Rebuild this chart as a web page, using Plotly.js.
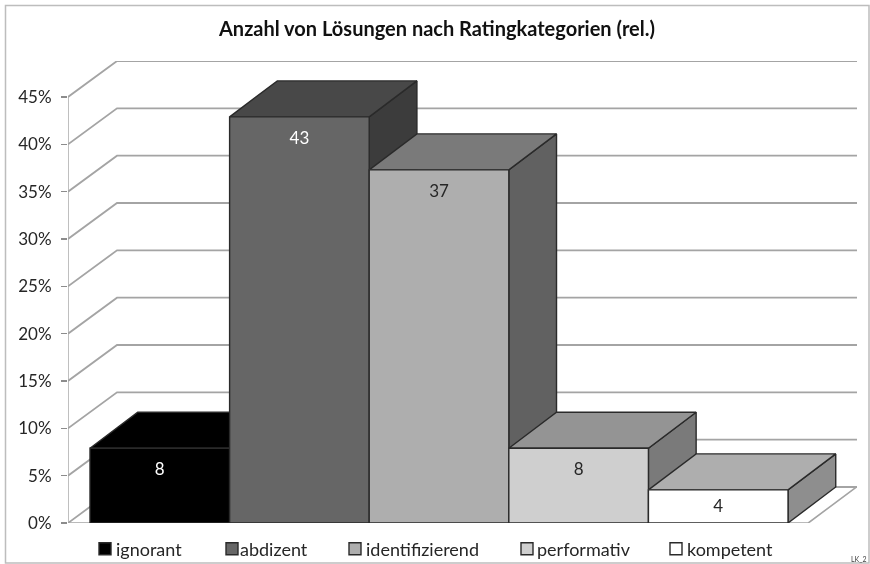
<!DOCTYPE html>
<html><head><meta charset="utf-8">
<script src="https://cdn.plot.ly/plotly-3.0.1.min.js"></script>
<style>html,body{margin:0;padding:0;background:#fff}#chart{width:870px;height:564px;filter:blur(0.35px)}</style>
</head><body><div id="chart"></div>
<script>
const categories = ['ignorant','abdizent','identifizierend','performativ','kompetent'];
const values = [7.9, 42.9, 37.3, 7.9, 3.5];
const labels = ['8','43','37','8','4'];
const yTicks = [0,5,10,15,20,25,30,35,40,45];
const frontColors = ['#000000','#666666','#aeaeae','#cfcfcf','#ffffff'];
const topColors = ['#000000','#484848','#7a7a7a','#949494','#aeaeae'];
const sideColors = ['#000000','#3c3c3c','#616161','#7a7a7a','#8e8e8e'];
const labelColors = ['#ffffff','#ffffff','#262626','#262626','#262626'];
const legendLeft = [87, 211, 337, 508, 658];
const swatchShift = [9, 12, 9, 10, 9];

const xMin=-0.6576, xMax=4.994, yMax=48.8, xFront=4.645;
const wallDx=0.351, barDx=0.3417, depthDy=3.8;
const gridColor='#a4a4a4', edge='#2a2a2a';
const traces=[];
function poly(xs,ys,fill){traces.push({type:'scatter',mode:'lines',x:xs,y:ys,fill:'toself',fillcolor:fill,
  line:{color:edge,width:1.4},showlegend:false,hoverinfo:'skip',cliponaxis:false});}
function line(xs,ys,w){traces.push({type:'scatter',mode:'lines',x:xs,y:ys,line:{color:gridColor,width:w},
  showlegend:false,hoverinfo:'skip',cliponaxis:false});}

yTicks.forEach(v=>line([xMin,xMin+wallDx,xMax],[v,v+depthDy,v+depthDy],1.8));
line([xMin,xMin],[0,45],1.4);
line([xMin,xFront,xFront+wallDx*0.98],[0,0,depthDy],1.6);

values.forEach((v,i)=>{
  const a=i-0.5,b=i+0.5;
  poly([b,b,b+barDx,b+barDx,b],[0,v,v+depthDy,depthDy,0],sideColors[i]);
  poly([a,b,b+barDx,a+barDx,a],[v,v,v+depthDy,v+depthDy,v],topColors[i]);
});
values.forEach((v,i)=>{
  traces.push({type:'bar',x:[i],y:[v],width:1,name:categories[i],xaxis:'x2',yaxis:'y2',cliponaxis:false,
    legend:i===0?'legend':'legend'+(i+1),
    marker:{color:frontColors[i],line:{color:edge,width:1.4}},hoverinfo:'name+y'});
});
traces.push({type:'scatter',mode:'text',x:categories.map((c,i)=>i),y:values.map(v=>v-Math.min(2.4,v*0.55)),text:labels,
  textposition:'middle center',textfont:{family:'Lato, Open Sans, sans-serif',size:17,color:labelColors},
  xaxis:'x2',yaxis:'y2',showlegend:false,hoverinfo:'skip',cliponaxis:false});

const font={family:'Lato, Open Sans, sans-serif',size:17,color:'#262626'};
const layout={
  width:870,height:564,margin:{l:68,r:13,t:61,b:41},
  paper_bgcolor:'#fff',plot_bgcolor:'rgba(0,0,0,0)',font,barmode:'overlay',
  title:{text:'<b>Anzahl von Lösungen nach Ratingkategorien (rel.)</b>',x:437/870,xanchor:'center',y:1-29/564,yanchor:'middle',
    font:{family:'Lato, Open Sans, sans-serif',size:20,color:'#111'}},
  xaxis:{range:[xMin,xMax],showgrid:false,zeroline:false,showticklabels:false,ticks:''},
  yaxis:{range:[0,yMax],tickvals:yTicks,ticktext:yTicks.map(v=>v+'%'),showgrid:false,zeroline:false,showline:false,
    ticks:'outside',ticklen:6,tickcolor:'#8c8c8c',tickwidth:1.2,ticklabelstandoff:6,tickfont:font},
  xaxis2:{range:[xMin,xMax],overlaying:'x',visible:false},
  yaxis2:{range:[0,yMax],overlaying:'y',visible:false},
  annotations:[{text:'LK_2',xref:'paper',yref:'paper',x:(869-68)/789,y:(523-559)/462,xanchor:'right',yanchor:'middle',showarrow:false,
    font:{family:'Lato, Open Sans, sans-serif',size:7,color:'#444'}}],
  shapes:[{type:'rect',xref:'paper',yref:'paper',x0:(5.5-68)/789,x1:(869-68)/789,y0:(523-563)/462,y1:(523-5.5)/462,
    line:{color:'#bdbdbd',width:1.5},fillcolor:'rgba(0,0,0,0)',layer:'below'}]
};
categories.forEach((c,i)=>{
  layout[i===0?'legend':'legend'+(i+1)]={x:legendLeft[i]/870,xref:'container',xanchor:'left',y:1-549/564,yref:'container',yanchor:'middle',
    orientation:'h',bgcolor:'rgba(0,0,0,0)',borderwidth:0,font:{family:'Lato, Open Sans, sans-serif',size:18,color:'#262626'},itemwidth:30,indentation:-11};
});
Plotly.newPlot('chart',traces,layout,{displayModeBar:false,staticPlot:true}).then(gd=>{
  categories.forEach((c,i)=>{
    const cls=i===0?'.legend':'.legend'+(i+1);
    gd.querySelectorAll(cls+' .legendsymbols').forEach(g=>g.setAttribute('transform','translate('+swatchShift[i]+',0)'));
  });
});
</script></body></html>
